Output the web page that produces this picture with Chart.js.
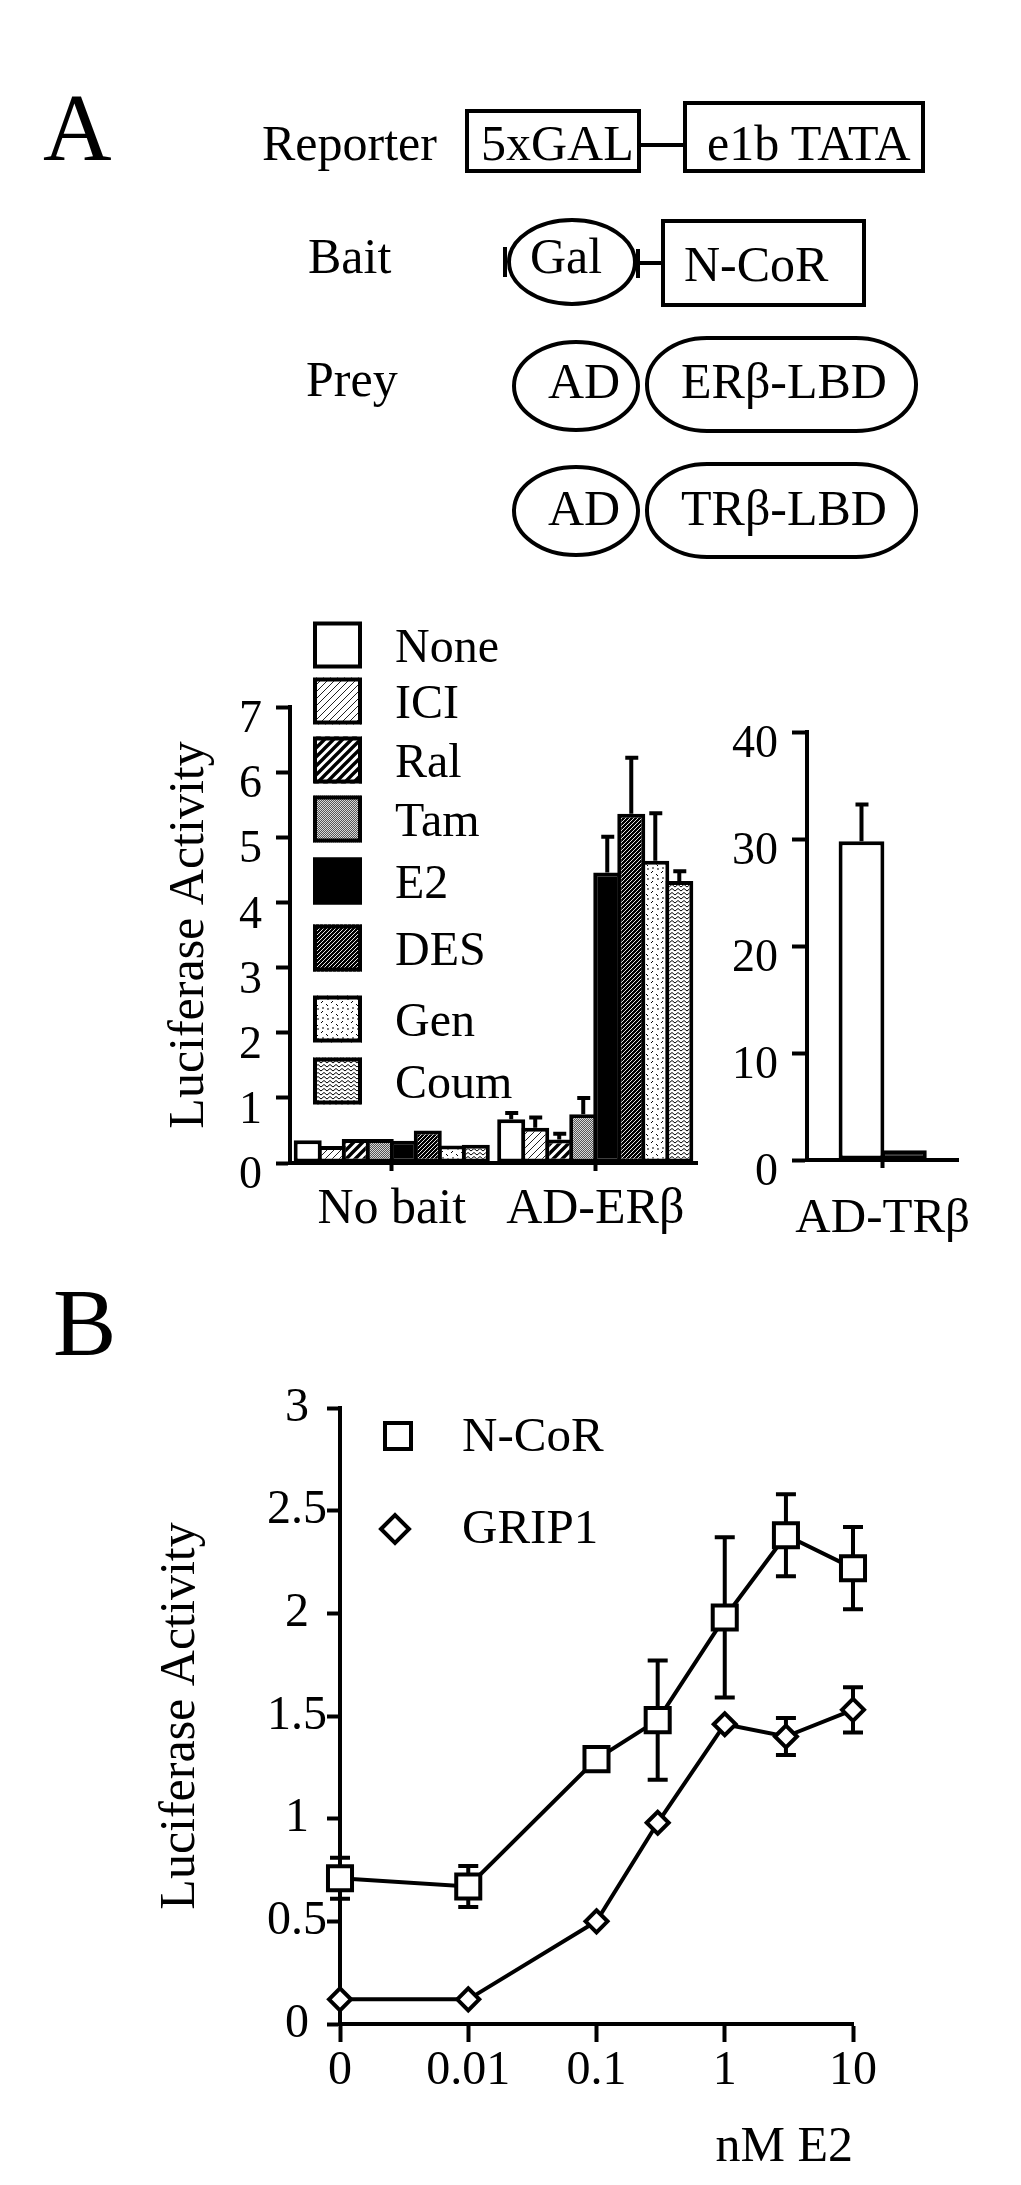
<!DOCTYPE html>
<html>
<head>
<meta charset="utf-8">
<script src="https://cdn.jsdelivr.net/npm/chart.js@4.4.1/dist/chart.umd.min.js"></script>
<style>
html,body{margin:0;padding:0;background:#fff;}
body{width:1021px;height:2185px;position:relative;overflow:hidden;}
#diagram{position:absolute;left:0;top:0;}
canvas{position:absolute;}
</style>
</head>
<body>
<svg id="diagram" width="1021" height="2185" xmlns="http://www.w3.org/2000/svg">
  <g font-family="'Liberation Serif','Times New Roman',serif" fill="#000">
    <text x="43" y="160" font-size="95">A</text>
    <text x="262" y="160" font-size="50">Reporter</text>
    <text x="308" y="273" font-size="50">Bait</text>
    <text x="306" y="396" font-size="50">Prey</text>
    <text x="53" y="1355" font-size="95">B</text>
  </g>
  <g fill="none" stroke="#000" stroke-width="4">
    <rect x="467" y="111" width="172" height="60"/>
    <line x1="639" y1="145" x2="685" y2="145"/>
    <rect x="685" y="103" width="238" height="68"/>
    <ellipse cx="572" cy="262" rx="63" ry="42"/>
    <line x1="505" y1="247" x2="505" y2="277"/>
    <line x1="638" y1="249" x2="638" y2="278"/>
    <line x1="638" y1="263" x2="663" y2="263"/>
    <rect x="663" y="221" width="201" height="84"/>
    <ellipse cx="576" cy="386" rx="62" ry="44"/>
    <rect x="647" y="338" width="269" height="93" rx="60" ry="46"/>
    <ellipse cx="576" cy="511" rx="62" ry="44"/>
    <rect x="647" y="464" width="269" height="93" rx="60" ry="46"/>
  </g>
  <g font-family="'Liberation Serif','Times New Roman',serif" fill="#000" font-size="50">
    <text x="481" y="160">5xGAL</text>
    <text x="707" y="160">e1b TATA</text>
    <text x="530" y="273">Gal</text>
    <text x="684" y="281">N-CoR</text>
    <text x="548" y="398">AD</text>
    <text x="681" y="398">ERβ-LBD</text>
    <text x="548" y="525">AD</text>
    <text x="681" y="525">TRβ-LBD</text>
  </g>
</svg>
<canvas id="cA" width="720" height="700" style="left:0px;top:560px;width:720px;height:700px"></canvas>
<canvas id="cA2" width="301" height="700" style="left:720px;top:560px;width:301px;height:700px"></canvas>
<canvas id="cB" width="1021" height="825" style="left:0px;top:1360px;width:1021px;height:825px"></canvas>
<script>
// ---------------- DATA ----------------
const groupsA = ['No bait', 'AD-ERβ'];
const treatments = ['None', 'ICI', 'Ral', 'Tam', 'E2', 'DES', 'Gen', 'Coum'];
const noBaitValues = [0.35, 0.26, 0.37, 0.37, 0.34, 0.50, 0.27, 0.28];
const noBaitErrors = [0, 0, 0, 0, 0, 0, 0, 0];
const adErbValues = [0.67, 0.54, 0.36, 0.75, 4.46, 5.36, 4.64, 4.33];
const adErbErrors = [0.13, 0.19, 0.12, 0.28, 0.58, 0.89, 0.76, 0.18];
const yTicksA = [0, 1, 2, 3, 4, 5, 6, 7];

const groupsTR = ['AD-TRβ'];
const treatmentsTR = ['None', 'E2'];
const trValues = [29.8, 0.9];
const trErrors = [3.6, 0];
const yTicksTR = [0, 10, 20, 30, 40];

const doses = [0, 0.01, 0.1, 0.3, 1, 3, 10];
const ncorValues = [0.71, 0.67, 1.29, 1.48, 1.98, 2.38, 2.22];
const ncorErrors = [0.10, 0.10, 0, 0.29, 0.39, 0.20, 0.20];
const grip1Values = [0.12, 0.12, 0.50, 0.98, 1.46, 1.40, 1.53];
const grip1Errors = [0, 0, 0, 0, 0, 0.09, 0.11];
const doseTickValues = [0, 0.01, 0.1, 1, 10];
const doseTickLabels = ['0', '0.01', '0.1', '1', '10'];
const yTicksB = [0, 0.5, 1, 1.5, 2, 2.5, 3];

// ---------------- STYLE ----------------
const FONT = "'Liberation Serif', 'Times New Roman', serif";
const ZERO_DOSE_POSITION = 0.001; // "0" drawn one decade below 0.01 on the log axis
const plotX = d => (d === 0 ? ZERO_DOSE_POSITION : d);

function diag(x, s) {
  x.beginPath();
  x.moveTo(0, s); x.lineTo(s, 0);
  x.moveTo(-s / 2, s / 2); x.lineTo(s / 2, -s / 2);
  x.moveTo(s / 2, s * 1.5); x.lineTo(s * 1.5, s / 2);
  x.stroke();
}
function makeFill(kind) {
  if (kind === 'white') return '#ffffff';
  if (kind === 'black') return '#000000';
  const c = document.createElement('canvas');
  const x = c.getContext('2d');
  if (kind === 'lightHatch') {
    c.width = c.height = 7;
    x.fillStyle = '#fff'; x.fillRect(0, 0, 7, 7);
    x.strokeStyle = '#222'; x.lineWidth = 1; diag(x, 7);
  } else if (kind === 'boldHatch') {
    c.width = c.height = 9;
    x.fillStyle = '#fff'; x.fillRect(0, 0, 9, 9);
    x.strokeStyle = '#000'; x.lineWidth = 3.4; diag(x, 9);
  } else if (kind === 'gray') {
    c.width = c.height = 2;
    x.fillStyle = '#555'; x.fillRect(0, 0, 2, 2);
    x.fillStyle = '#d8d8d8'; x.fillRect(0, 0, 1, 1); x.fillRect(1, 1, 1, 1);
  } else if (kind === 'darkHatch') {
    c.width = c.height = 4;
    x.fillStyle = '#000'; x.fillRect(0, 0, 4, 4);
    x.strokeStyle = '#fff'; x.lineWidth = 0.9; diag(x, 4);
  } else if (kind === 'dash') {
    c.width = c.height = 10;
    x.fillStyle = '#fff'; x.fillRect(0, 0, 10, 10);
    x.strokeStyle = '#000'; x.lineWidth = 1;
    x.beginPath();
    x.moveTo(1, 3); x.lineTo(3, 1);
    x.moveTo(6, 4); x.lineTo(8, 6);
    x.moveTo(2, 8); x.lineTo(4, 8);
    x.moveTo(7, 9); x.lineTo(9, 9);
    x.stroke();
  } else if (kind === 'zigzag') {
    c.width = 6; c.height = 4;
    x.fillStyle = '#fff'; x.fillRect(0, 0, 6, 4);
    x.strokeStyle = '#000'; x.lineWidth = 1;
    x.beginPath();
    x.moveTo(0, 0.5); x.lineTo(3, 3); x.lineTo(6, 0.5);
    x.stroke();
  }
  return x.createPattern(c, 'repeat');
}
const fillKinds = ['white', 'lightHatch', 'boldHatch', 'gray', 'black', 'darkHatch', 'dash', 'zigzag'];
const fills = fillKinds.map(makeFill);
const legendRowsA = [85, 141, 200, 259, 321, 388, 459, 521];

// ---------------- PLUGINS ----------------
const barErrPlugin = {
  id: 'barErr',
  afterDatasetsDraw(chart) {
    const ctx = chart.ctx, ys = chart.scales.y;
    chart.data.datasets.forEach((ds, di) => {
      const meta = chart.getDatasetMeta(di);
      meta.data.forEach((bar, i) => {
        const e = ds.errors && ds.errors[i];
        if (!e) return;
        const yTop = ys.getPixelForValue(ds.data[i] + e);
        ctx.save();
        ctx.strokeStyle = '#000'; ctx.lineWidth = 4; ctx.lineCap = 'butt';
        ctx.beginPath();
        ctx.moveTo(bar.x, bar.y); ctx.lineTo(bar.x, yTop);
        ctx.moveTo(bar.x - 6, yTop + 2); ctx.lineTo(bar.x + 7, yTop + 2);
        ctx.stroke();
        ctx.restore();
      });
    });
  }
};

const legendAPlugin = {
  id: 'legendA',
  afterDraw(chart) {
    const ctx = chart.ctx;
    chart.data.datasets.forEach((ds, i) => {
      const cy = legendRowsA[i];
      const x0 = 313, w = 49, h = 47;
      ctx.save();
      ctx.fillStyle = ds.backgroundColor;
      ctx.fillRect(x0, cy - h / 2, w, h);
      ctx.lineWidth = 4; ctx.strokeStyle = '#000';
      ctx.strokeRect(x0 + 2, cy - h / 2 + 2, w - 4, h - 4);
      ctx.fillStyle = '#000';
      ctx.font = '48px ' + FONT;
      ctx.textBaseline = 'middle'; ctx.textAlign = 'left';
      ctx.fillText(ds.label, 395, cy + 4);
      ctx.restore();
    });
  }
};

const pointErrPlugin = {
  id: 'pointErr',
  beforeDatasetsDraw(chart) {
    const ctx = chart.ctx, ys = chart.scales.y;
    chart.data.datasets.forEach((ds, di) => {
      const meta = chart.getDatasetMeta(di);
      meta.data.forEach((pt, i) => {
        const e = ds.errors[i];
        if (!e) return;
        const v = ds.data[i].y;
        const yHi = ys.getPixelForValue(v + e), yLo = ys.getPixelForValue(v - e);
        ctx.save();
        ctx.strokeStyle = '#000'; ctx.lineWidth = 4;
        ctx.beginPath();
        ctx.moveTo(pt.x, yHi); ctx.lineTo(pt.x, yLo);
        ctx.moveTo(pt.x - 10, yHi); ctx.lineTo(pt.x + 10, yHi);
        ctx.moveTo(pt.x - 10, yLo); ctx.lineTo(pt.x + 10, yLo);
        ctx.stroke();
        ctx.restore();
      });
    });
  }
};

const legendBPlugin = {
  id: 'legendB',
  afterDraw(chart) {
    const ctx = chart.ctx;
    const rows = [{mx: 398, my: 76, ty: 78}, {mx: 395, my: 169, ty: 170}];
    chart.data.datasets.forEach((ds, i) => {
      const r = rows[i];
      ctx.save();
      ctx.lineWidth = 4; ctx.strokeStyle = '#000'; ctx.fillStyle = '#fff';
      ctx.beginPath();
      if (ds.pointStyle === 'rect') {
        ctx.rect(r.mx - 13, r.my - 13, 26, 26);
      } else {
        ctx.moveTo(r.mx - 14, r.my); ctx.lineTo(r.mx, r.my - 14);
        ctx.lineTo(r.mx + 14, r.my); ctx.lineTo(r.mx, r.my + 14); ctx.closePath();
      }
      ctx.fill(); ctx.stroke();
      ctx.fillStyle = '#000';
      ctx.font = '49px ' + FONT;
      ctx.textBaseline = 'middle'; ctx.textAlign = 'left';
      ctx.fillText(ds.label, 462, r.ty);
      ctx.restore();
    });
  }
};

// ---------------- COMMON AXIS STYLE ----------------
function axisGrid(len) {
  return { display: true, drawOnChartArea: false, drawTicks: true, tickLength: len, tickWidth: 4, tickColor: '#000', offset: false };
}
const axisBorder = { display: true, width: 4, color: '#000' };
Chart.defaults.color = '#000';

// ---------------- CHART A (left) ----------------
new Chart(document.getElementById('cA'), {
  type: 'bar',
  data: {
    labels: groupsA,
    datasets: treatments.map((t, i) => ({
      label: t,
      data: [noBaitValues[i], adErbValues[i]],
      errors: [noBaitErrors[i], adErbErrors[i]],
      backgroundColor: fills[i],
      borderColor: '#000',
      borderWidth: 4,
      borderSkipped: false,
      categoryPercentage: 0.944,
      barPercentage: 1.167
    }))
  },
  options: {
    responsive: false, animation: false, devicePixelRatio: 1,
    layout: { padding: { top: 147, right: 23, left: 0, bottom: 0 } },
    plugins: { legend: { display: false }, tooltip: { enabled: false } },
    scales: {
      x: {
        grid: axisGrid(8), border: axisBorder,
        ticks: { color: '#000', font: { family: FONT, size: 50, lineHeight: 1 }, padding: 14, maxRotation: 0, autoSkip: false },
        afterFit: s => { s.height = 97; }
      },
      y: {
        min: 0, max: 7,
        afterBuildTicks: s => { s.ticks = yTicksA.map(v => ({ value: v })); },
        grid: axisGrid(14), border: axisBorder,
        ticks: { color: '#000', font: { family: FONT, size: 46, lineHeight: 1 }, padding: 14, labelOffset: 13, callback: v => String(v) },
        title: { display: true, text: 'Luciferase Activity', color: '#000', font: { family: FONT, size: 50, lineHeight: 1 }, padding: { top: 165, bottom: 0 } },
        afterFit: s => { s.width = 290; }
      }
    }
  },
  plugins: [barErrPlugin, legendAPlugin]
});

// ---------------- CHART A (right, AD-TRβ) ----------------
new Chart(document.getElementById('cA2'), {
  type: 'bar',
  data: {
    labels: groupsTR,
    datasets: treatmentsTR.map((t, i) => ({
      label: t,
      data: [trValues[i]],
      errors: [trErrors[i]],
      backgroundColor: fills[treatments.indexOf(t)],
      borderColor: '#000',
      borderWidth: 4,
      borderSkipped: false,
      categoryPercentage: 0.56,
      barPercentage: 1.08
    }))
  },
  options: {
    responsive: false, animation: false, devicePixelRatio: 1,
    layout: { padding: { top: 172, right: 48, left: 0, bottom: 0 } },
    plugins: { legend: { display: false }, tooltip: { enabled: false } },
    scales: {
      x: {
        grid: axisGrid(8), border: axisBorder,
        ticks: { color: '#000', font: { family: FONT, size: 49, lineHeight: 1 }, padding: 27, maxRotation: 0, autoSkip: false },
        afterFit: s => { s.height = 100; }
      },
      y: {
        min: 0, max: 40,
        afterBuildTicks: s => { s.ticks = yTicksTR.map(v => ({ value: v })); },
        grid: axisGrid(15), border: axisBorder,
        ticks: { color: '#000', font: { family: FONT, size: 46, lineHeight: 1 }, padding: 14, labelOffset: 13, callback: v => String(v) },
        afterFit: s => { s.width = 87; }
      }
    }
  },
  plugins: [barErrPlugin]
});

// ---------------- CHART B ----------------
new Chart(document.getElementById('cB'), {
  type: 'line',
  data: {
    datasets: [
      {
        label: 'N-CoR',
        data: doses.map((d, i) => ({ x: plotX(d), y: ncorValues[i] })),
        errors: ncorErrors,
        borderColor: '#000', borderWidth: 4, tension: 0,
        pointStyle: 'rect', pointRadius: 17, pointBorderWidth: 4,
        pointBackgroundColor: '#fff', pointBorderColor: '#000',
        clip: false
      },
      {
        label: 'GRIP1',
        data: doses.map((d, i) => ({ x: plotX(d), y: grip1Values[i] })),
        errors: grip1Errors,
        borderColor: '#000', borderWidth: 4, tension: 0,
        pointStyle: 'rectRot', pointRadius: 11, pointBorderWidth: 4,
        pointBackgroundColor: '#fff', pointBorderColor: '#000',
        clip: false
      }
    ]
  },
  options: {
    responsive: false, animation: false, devicePixelRatio: 1,
    layout: { padding: { top: 48, right: 168, left: 0, bottom: 0 } },
    plugins: { legend: { display: false }, tooltip: { enabled: false } },
    scales: {
      x: {
        type: 'logarithmic',
        min: plotX(doseTickValues[0]), max: doseTickValues[doseTickValues.length - 1],
        afterBuildTicks: s => { s.ticks = doseTickValues.map(d => ({ value: plotX(d) })); },
        grid: axisGrid(18), border: axisBorder,
        ticks: { color: '#000', font: { family: FONT, size: 48, lineHeight: 1 }, padding: 5, maxRotation: 0, autoSkip: false,
                 callback: (v, i) => doseTickLabels[i] },
        title: { display: true, text: 'nM E2', align: 'end', color: '#000', font: { family: FONT, size: 50, lineHeight: 1 }, padding: { top: 0, bottom: 12 } },
        afterFit: s => { s.height = 161; }
      },
      y: {
        min: 0, max: 3,
        afterBuildTicks: s => { s.ticks = yTicksB.map(v => ({ value: v })); },
        grid: axisGrid(13), border: axisBorder,
        ticks: { color: '#000', font: { family: FONT, size: 48, lineHeight: 1 }, padding: 0, crossAlign: 'center', callback: v => String(v) },
        title: { display: true, text: 'Luciferase Activity', color: '#000', font: { family: FONT, size: 50, lineHeight: 1 }, padding: { top: 156, bottom: 0 } },
        afterFit: s => { s.width = 340; }
      }
    }
  },
  plugins: [pointErrPlugin, legendBPlugin]
});
</script>
</body>
</html>
